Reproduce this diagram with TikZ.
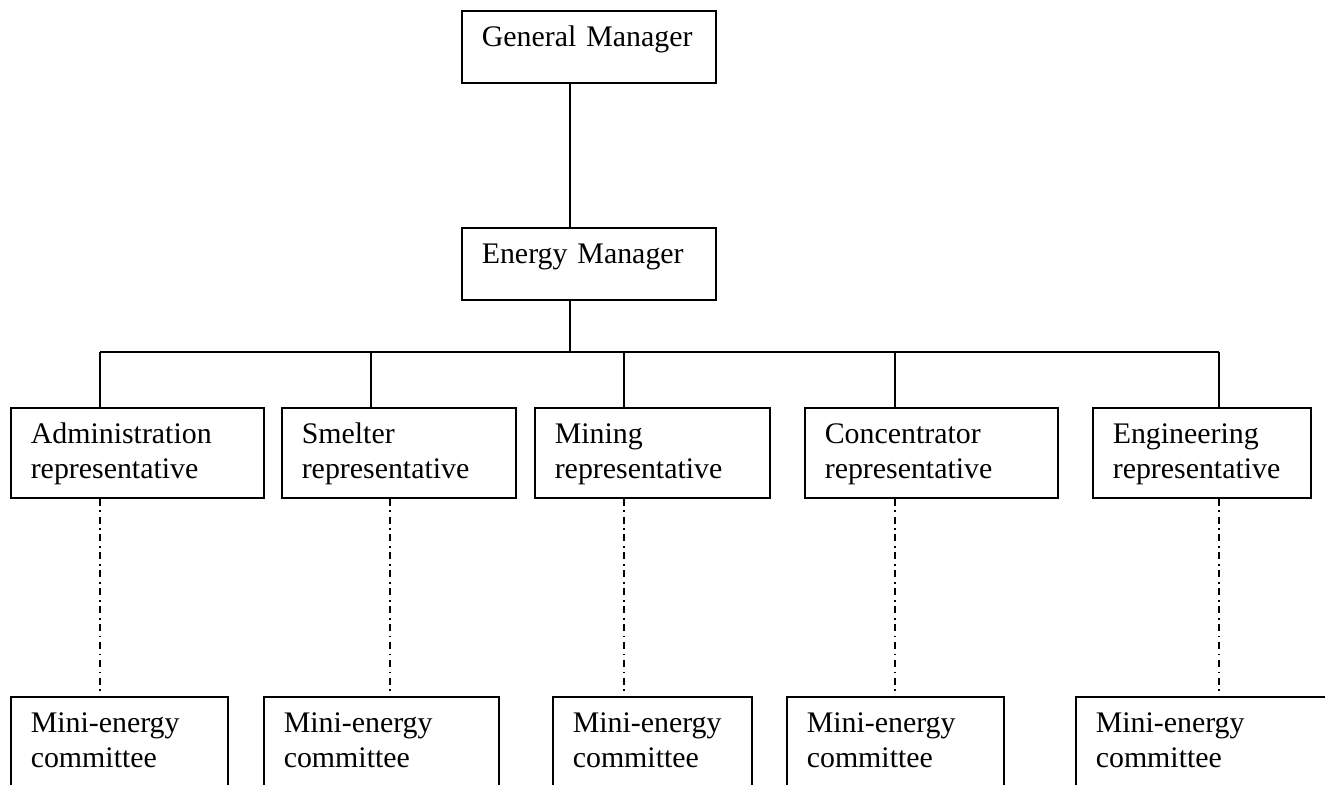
\documentclass[tikz,border=0pt]{standalone}
\usepackage{fontspec}
\setmainfont{Liberation Serif}
\usepackage{tikz}
\newcommand{\chartfont}{\fontsize{8.5}{10}\selectfont}
\tikzset{
  box/.style={draw, line width=0.45pt, anchor=north west, align=left,
    inner xsep=0.2cm, inner ysep=0pt, text height=0.36cm, font=\chartfont},
  topbox/.style={box, text depth=0.36cm},
  repbox/.style={box, text depth=0.54cm},
  minibox/.style={box, text depth=0.62cm},
  link/.style={line width=0.45pt},
  dashdot/.style={line width=0.45pt, dash pattern=on 2pt off 1.3pt on 0.5pt off 1.3pt}
}

\begin{document}
\begin{tikzpicture}
  \useasboundingbox (0,0) rectangle (13.25,-7.84);
  \clip (0,0) rectangle (13.25,-7.84);
  % top of the chart
  \node[topbox, text width=2.14cm] (gm) at (4.61,-0.10) {General Manager};
  \node[topbox, text width=2.14cm] (em) at (4.61,-2.27) {Energy Manager};
  % representatives
  \node[repbox, text width=2.13cm] (admin) at (0.10,-4.07) {Administration\\representative};
  \node[repbox, text width=1.94cm] (smelter) at (2.81,-4.07) {Smelter\\representative};
  \node[repbox, text width=1.95cm] (mining) at (5.34,-4.07) {Mining\\representative};
  \node[repbox, text width=2.13cm] (conc) at (8.04,-4.07) {Concentrator\\representative};
  \node[repbox, text width=1.78cm] (eng) at (10.92,-4.07) {Engineering\\representative};
  % committees
  \node[minibox, text width=1.77cm] (mini1) at (0.10,-6.96) {Mini-energy\\committee};
  \node[minibox, text width=1.95cm] (mini2) at (2.63,-6.96) {Mini-energy\\committee};
  \node[minibox, text width=1.59cm] (mini3) at (5.52,-6.96) {Mini-energy\\committee};
  \node[minibox, text width=1.77cm] (mini4) at (7.86,-6.96) {Mini-energy\\committee};
  \node[minibox, text width=2.20cm] (mini5) at (10.75,-6.96) {Mini-energy\\committee};
  % taps on the bus
  \coordinate (hub) at (5.70,-3.52);
  \coordinate (t1) at (1.00,-3.52);
  \coordinate (t2) at (3.71,-3.52);
  \coordinate (t3) at (6.24,-3.52);
  \coordinate (t4) at (8.95,-3.52);
  \coordinate (t5) at (12.19,-3.52);
  \coordinate (s2) at (3.90,-3.52);
  % solid lines
  \draw[link] (hub |- gm.south) -- (hub |- em.north);
  \draw[link] (hub |- em.south) -- (hub);
  \draw[link] (t1) -- (t5);
  \draw[link] (t1) -- (t1 |- admin.north);
  \draw[link] (t2) -- (t2 |- smelter.north);
  \draw[link] (t3) -- (t3 |- mining.north);
  \draw[link] (t4) -- (t4 |- conc.north);
  \draw[link] (t5) -- (t5 |- eng.north);
  % dash-dot lines
  \draw[dashdot] (t1 |- admin.south) -- (t1 |- mini1.north);
  \draw[dashdot] (s2 |- smelter.south) -- (s2 |- mini2.north);
  \draw[dashdot] (t3 |- mining.south) -- (t3 |- mini3.north);
  \draw[dashdot] (t4 |- conc.south) -- (t4 |- mini4.north);
  \draw[dashdot] (t5 |- eng.south) -- (t5 |- mini5.north);
\end{tikzpicture}
\end{document}
